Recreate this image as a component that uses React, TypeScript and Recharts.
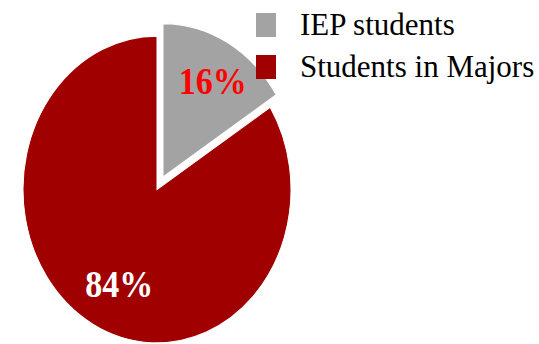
import { PieChart, Pie, Cell, Legend } from "recharts";

const categories = ["IEP students", "Students in Majors"];
const shares = [16, 84];
const colors = ["#a3a3a3", "#a00000"];
const labelColors = ["#ff0000", "#ffffff"];

const data = categories.map((name, i) => ({ name, value: shares[i] }));

// the original pie is drawn as an ellipse (taller than wide)
const STRETCH = 1.145;
const RADIAN = Math.PI / 180;
const SERIF = "'Liberation Serif', 'Times New Roman', serif";
const labelNudge = [4, 8];

function makeLabel(only: number) {
  return (props: any) => {
    const { cx, cy, midAngle, outerRadius, index, value } = props;
    if (index !== only) return null;
    const r = outerRadius * 0.71;
    const x = cx + r * Math.cos(-midAngle * RADIAN) + labelNudge[index];
    const y = cy + r * Math.sin(-midAngle * RADIAN) * STRETCH - 1;
    return (
      <text
        transform={`translate(${x},${y}) scale(1,${STRETCH})`}
        textAnchor="middle"
        dominantBaseline="central"
        fill={labelColors[index]}
        style={{ fontFamily: SERIF, fontWeight: "bold", fontSize: 34 }}
      >
        {`${value}%`}
      </text>
    );
  };
}

function LegendBox() {
  return (
    <div style={{ fontFamily: SERIF, fontSize: 31, color: "#000" }}>
      {categories.map((c, i) => (
        <div key={c} style={{ display: "flex", alignItems: "center", height: 42 }}>
          <span
            style={{
              display: "inline-block",
              width: 20,
              height: 24,
              background: colors[i],
              marginRight: 24,
            }}
          />
          <span style={{ lineHeight: "30px" }}>{c}</span>
        </div>
      ))}
    </div>
  );
}

export default function App() {
  return (
    <div style={{ position: "absolute", left: 0, top: 0, background: "#fff" }}>
      <style>{`
        .pie-gray .recharts-pie-sector { transform: scaleY(${STRETCH}); transform-origin: 163px 177px; }
        .pie-red .recharts-pie-sector { transform: scaleY(${STRETCH}); transform-origin: 157px 189.5px; }
      `}</style>
      <PieChart width={539} height={344} margin={{ top: 0, right: 0, bottom: 0, left: 0 }}>
        <Pie
          className="pie-red"
          data={data}
          dataKey="value"
          cx={157}
          cy={189.5}
          outerRadius={134}
          startAngle={90}
          endAngle={-270}
          stroke="#ffffff"
          strokeWidth={1}
          labelLine={false}
          label={makeLabel(1)}
          isAnimationActive={false}
        >
          {data.map((d, i) => (
            <Cell key={d.name} fill={i === 1 ? colors[1] : "none"} stroke={i === 1 ? "#ffffff" : "none"} />
          ))}
        </Pie>
        <Pie
          className="pie-gray"
          data={data}
          dataKey="value"
          cx={163}
          cy={177}
          outerRadius={134}
          startAngle={90}
          endAngle={-270}
          stroke="#ffffff"
          strokeWidth={1}
          labelLine={false}
          label={makeLabel(0)}
          isAnimationActive={false}
        >
          {data.map((d, i) => (
            <Cell key={d.name} fill={i === 0 ? colors[0] : "none"} stroke={i === 0 ? "#ffffff" : "none"} />
          ))}
        </Pie>
        <Legend
          layout="vertical"
          verticalAlign="top"
          align="right"
          content={() => <LegendBox />}
          wrapperStyle={{ top: 4, left: 256, width: 283 }}
        />
      </PieChart>
    </div>
  );
}
